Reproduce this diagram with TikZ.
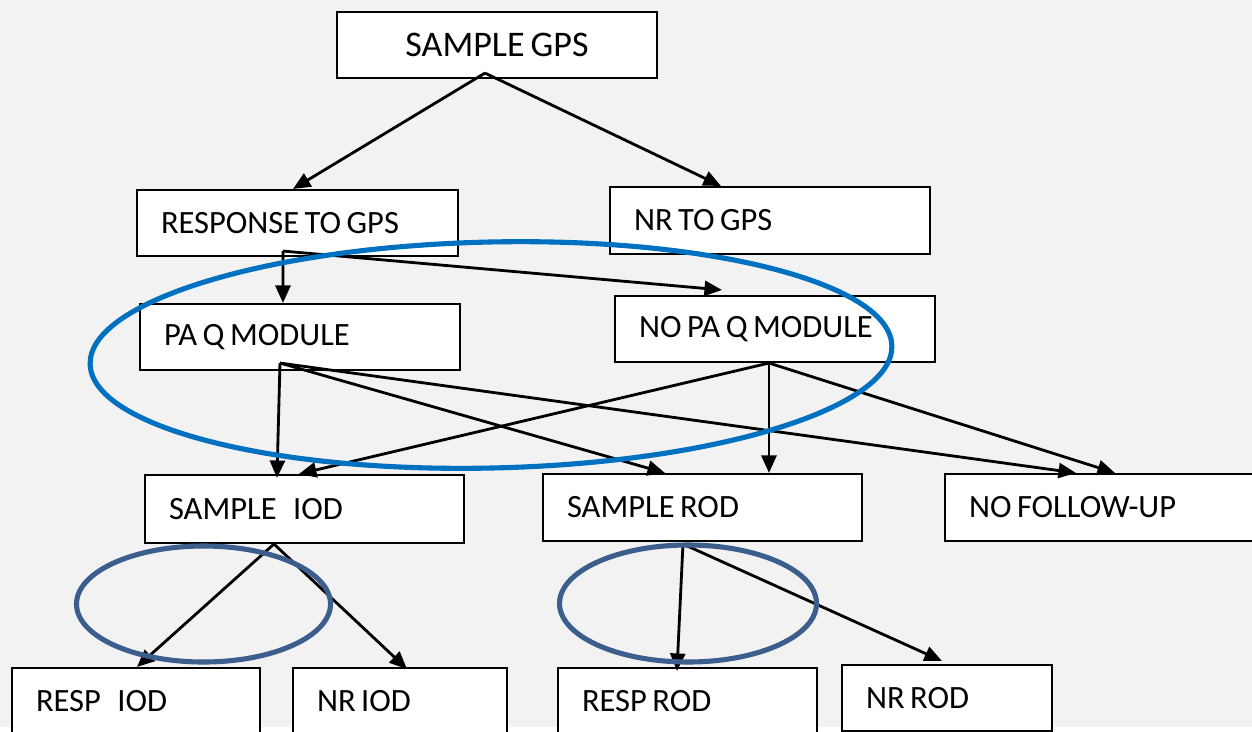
\documentclass[tikz,border=0pt]{standalone}
\usepackage{fontspec}
\setmainfont{Carlito}[WordSpace=0.75]
\usetikzlibrary{arrows.meta,calc}
\definecolor{bggray}{RGB}{242,242,242}
\definecolor{ringblue}{RGB}{0,112,192}
\definecolor{ringslate}{RGB}{59,94,140}

\begin{document}
\begin{tikzpicture}[x=0.02cm,y=-0.02cm,
		box/.style={draw=black,fill=white,line width=1.2pt,minimum height=1.32cm,inner xsep=0.48cm,align=left,font=\fontsize{18.5}{20}\selectfont,execute at begin node={\spaceskip=0pt\relax}},
		arr/.style={line width=1.6pt,-{Triangle[length=0.35cm,width=0.3cm]}},
		ring/.style={line width=2.9pt}]
					\useasboundingbox (0,0) rectangle (1252,731);
					\clip (0,0) rectangle (1252,731);
					\fill [bggray] (0,0) rectangle (1252,727);
					\node [box,minimum width=6.4cm,align=center,font=\fontsize{20.5}{23}\selectfont] (gps) at (497,45) {SAMPLE GPS};
					\node [box,text width=5.46cm] (resp) at (297.5,223) {RESPONSE TO GPS};
					\node [box,text width=5.44cm,minimum height=1.34cm] (nrgps) at (770,220.5) {NR TO GPS};
					\node [box,text width=5.44cm] (paq) at (300,337) {PA Q MODULE};
					\node [box,text width=5.44cm] (nopaq) at (775,329) {NO PA Q MODULE};
					\node [box,text width=5.42cm,minimum height=1.36cm] (siod) at (304.5,509) {SAMPLE\ \ \ IOD};
					\node [box,text width=5.42cm,minimum height=1.34cm] (srod) at (702.5,507.5) {SAMPLE ROD};
					\node [box,text width=5.44cm,minimum height=1.34cm] (nofu) at (1105,507.5) {NO FOLLOW-UP};
					\node [box,text width=4.0cm] (riod) at (136,701) {RESP\ \ \ IOD};
					\node [box,text width=3.32cm] (nriod) at (400,701) {NR IOD};
					\node [box,text width=4.22cm] (rrod) at (687.5,701) {RESP ROD};
					\node [box,text width=3.24cm] (nrrod) at (947,698) {NR ROD};
					\coordinate (gpsfan) at ($(gps.south)+(-12,-6)$);
					\coordinate (respfan) at ($(resp.south west)+(147,-6)$);
					\coordinate (paqfan) at ($(paq.south west)+(141,-8)$);
					\coordinate (nopaqfan) at ($(nopaq.south west)+(155,0)$);
					\coordinate (siodfan) at ($(siod.south west)+(130,0)$);
					\coordinate (srodfan) at ($(srod.south west)+(141,2)$);
					\draw [arr] (gpsfan) -- ($(resp.north west)+(157,0)$);
					\draw [arr] (gpsfan) -- ($(nrgps.north west)+(112,0)$);
					\draw [arr] (respfan) -- ($(paq.north west)+(144,0)$);
					\draw [arr] (respfan) -- ($(nopaq.north west)+(108,-5)$);
					\draw [arr] (paqfan) -- ($(siod.north west)+(133,4)$);
					\draw [arr] (paqfan) -- ($(srod.north west)+(123,0)$);
					\draw [arr] (paqfan) -- ($(nofu.north west)+(132,0)$);
					\draw [arr] (nopaqfan) -- ($(siod.north west)+(155,0)$);
					\draw [arr] (nopaqfan) -- ($(srod.north west)+(227,0)$);
					\draw [arr] (nopaqfan) -- ($(nofu.north west)+(171,0)$);
					\draw [arr] (siodfan) -- ($(riod.north west)+(126,0)$);
					\draw [arr] (siodfan) -- ($(nriod.north west)+(115,2)$);
					\draw [arr] (srodfan) -- ($(rrod.north west)+(120,4)$);
					\draw [arr] (srodfan) -- ($(nrrod.north west)+(101,-3)$);
					\draw [ring,ringblue,rotate around={1.3:(491,355)}] (491,355) ellipse [x radius=401,y radius=113];
					\draw [ring,ringslate] (203.5,604) ellipse [x radius=127,y radius=58];
					\draw [ring,ringslate] (688,603.5) ellipse [x radius=128.5,y radius=58.5];
				\end{tikzpicture}
\end{document}
